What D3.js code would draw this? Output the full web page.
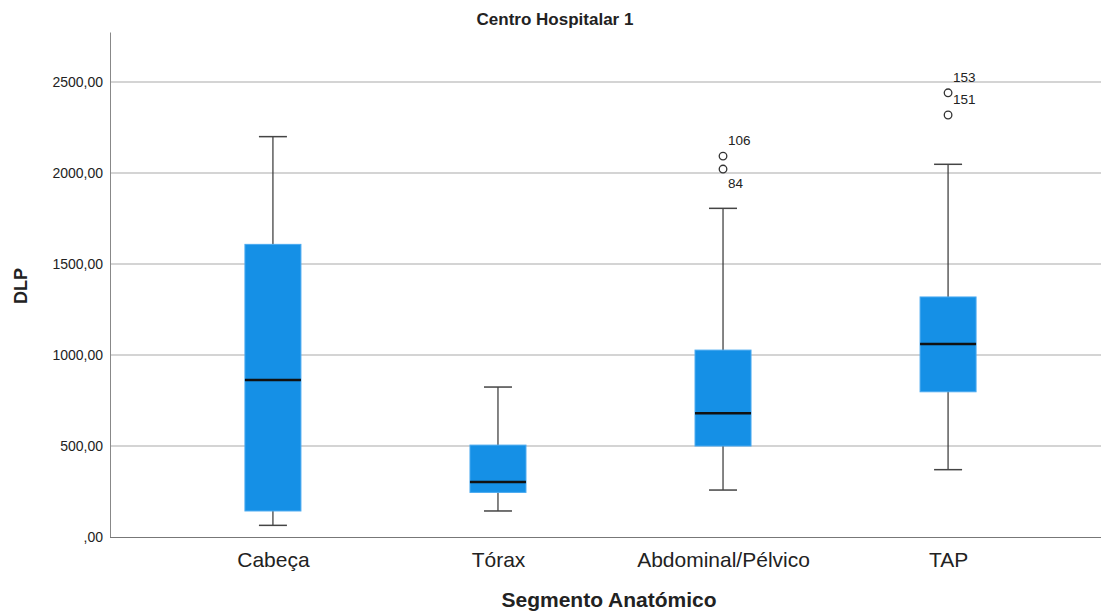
<!DOCTYPE html>
<html>
<head>
<meta charset="utf-8">
<script src="https://cdn.jsdelivr.net/npm/d3@7"></script>
<style>
  body { margin: 0; background: #fff; }
  svg { display: block; }
  text { font-family: "Liberation Sans", Arial, sans-serif; fill: #222; }
</style>
</head>
<body>
<div id="chart"></div>
<script>
// data
var categories = ['Cabeça', 'Tórax', 'Abdominal/Pélvico', 'TAP'];
var whiskerLow = [64, 143, 258, 370];
var q1 = [143, 245, 500, 798];
var median = [863, 302, 680, 1060];
var q3 = [1608, 505, 1027, 1319];
var whiskerHigh = [2200, 824, 1806, 2048];
var outlierCat = ['Abdominal/Pélvico', 'Abdominal/Pélvico', 'TAP', 'TAP'];
var outlierVal = [2093, 2022, 2441, 2319];
var outlierId = ['106', '84', '153', '151'];
var outlierSide = ['up', 'down', 'up', 'up'];
var yTicks = [0, 500, 1000, 1500, 2000, 2500];

var w = 1101, h = 613;
var mLeft = 110, mTop = 32, mBottom = 537;
var boxW = 56, capW = 28;

var svg = d3.select('#chart').append('svg')
            .attr('width', w)
            .attr('height', h);

var x = d3.scalePoint()
          .domain(categories)
          .range([mLeft, 1111])
          .padding(0.724);

var y = d3.scaleLinear()
          .domain([0, 2775])
          .range([mBottom, mTop]);

var fmt = function(d) {
  var s = d3.format('.2f')(d).replace('.', ',');
  return s.indexOf('0,') == 0 ? s.slice(1) : s;
};

// gridlines
svg.append('g').selectAll('line')
   .data(yTicks.filter(function(d) { return d > 0; }))
   .enter().append('line')
   .attr('x1', mLeft).attr('x2', w)
   .attr('y1', function(d) { return y(d); })
   .attr('y2', function(d) { return y(d); })
   .attr('stroke', '#d4d4d4')
   .attr('stroke-width', 2);

// y axis
var yAxis = d3.axisLeft(y).tickValues(yTicks).tickSize(0).tickPadding(7).tickFormat(fmt);
var ya = svg.append('g').attr('transform', 'translate(' + mLeft + ',0)').call(yAxis);
ya.select('.domain').attr('stroke', '#888');
ya.selectAll('text').style('font-size', '14px').attr('fill', '#222');

// x axis
var xAxis = d3.axisBottom(x).tickSize(0).tickPadding(15);
var xa = svg.append('g').attr('transform', 'translate(0,' + mBottom + ')').call(xAxis);
xa.select('.domain').attr('stroke', '#777').attr('d', 'M' + mLeft + ',0.5H' + w);
xa.selectAll('text').style('font-size', '21px').attr('fill', '#222');

// boxes
var idx = d3.range(categories.length);
var g = svg.append('g');

g.selectAll('.whisker').data(idx).enter().append('line')
 .attr('x1', function(i) { return x(categories[i]); })
 .attr('x2', function(i) { return x(categories[i]); })
 .attr('y1', function(i) { return y(whiskerLow[i]); })
 .attr('y2', function(i) { return y(whiskerHigh[i]); })
 .attr('stroke', '#333').attr('stroke-width', 1.2);

[whiskerLow, whiskerHigh].forEach(function(arr) {
  g.selectAll(null).data(idx).enter().append('line')
   .attr('x1', function(i) { return x(categories[i]) - capW / 2; })
   .attr('x2', function(i) { return x(categories[i]) + capW / 2; })
   .attr('y1', function(i) { return y(arr[i]); })
   .attr('y2', function(i) { return y(arr[i]); })
   .attr('stroke', '#444').attr('stroke-width', 1.5);
});

g.selectAll('.box').data(idx).enter().append('rect')
 .attr('x', function(i) { return x(categories[i]) - boxW / 2; })
 .attr('y', function(i) { return y(q3[i]); })
 .attr('width', boxW)
 .attr('height', function(i) { return y(q1[i]) - y(q3[i]); })
 .attr('fill', '#1590e6')
 .attr('stroke', '#4aaaf0').attr('stroke-width', 1);

g.selectAll('.med').data(idx).enter().append('line')
 .attr('x1', function(i) { return x(categories[i]) - boxW / 2; })
 .attr('x2', function(i) { return x(categories[i]) + boxW / 2; })
 .attr('y1', function(i) { return y(median[i]); })
 .attr('y2', function(i) { return y(median[i]); })
 .attr('stroke', '#111').attr('stroke-width', 2.5);

// outliers
var oi = d3.range(outlierVal.length);
g.selectAll('.out').data(oi).enter().append('circle')
 .attr('cx', function(i) { return x(outlierCat[i]); })
 .attr('cy', function(i) { return y(outlierVal[i]); })
 .attr('r', 3.8)
 .attr('fill', 'none')
 .attr('stroke', '#333').attr('stroke-width', 1.3);

g.selectAll('.outlab').data(oi).enter().append('text')
 .attr('x', function(i) { return x(outlierCat[i]) + 5; })
 .attr('y', function(i) { return y(outlierVal[i]) + (outlierSide[i] == 'up' ? -11 : 19); })
 .style('font-size', '13.5px')
 .text(function(i) { return outlierId[i]; });

// titles
svg.append('text')
   .attr('x', 555).attr('y', 25)
   .attr('text-anchor', 'middle')
   .style('font-size', '17px').style('font-weight', 'bold')
   .attr('fill', '#000')
   .text('Centro Hospitalar 1');

svg.append('text')
   .attr('transform', 'translate(27,286) rotate(-90)')
   .attr('text-anchor', 'middle')
   .style('font-size', '18px').style('font-weight', 'bold')
   .attr('fill', '#000')
   .text('DLP');

svg.append('text')
   .attr('x', 609).attr('y', 607)
   .attr('text-anchor', 'middle')
   .style('font-size', '21px').style('font-weight', 'bold')
   .attr('fill', '#000')
   .text('Segmento Anatómico');
</script>
</body>
</html>
